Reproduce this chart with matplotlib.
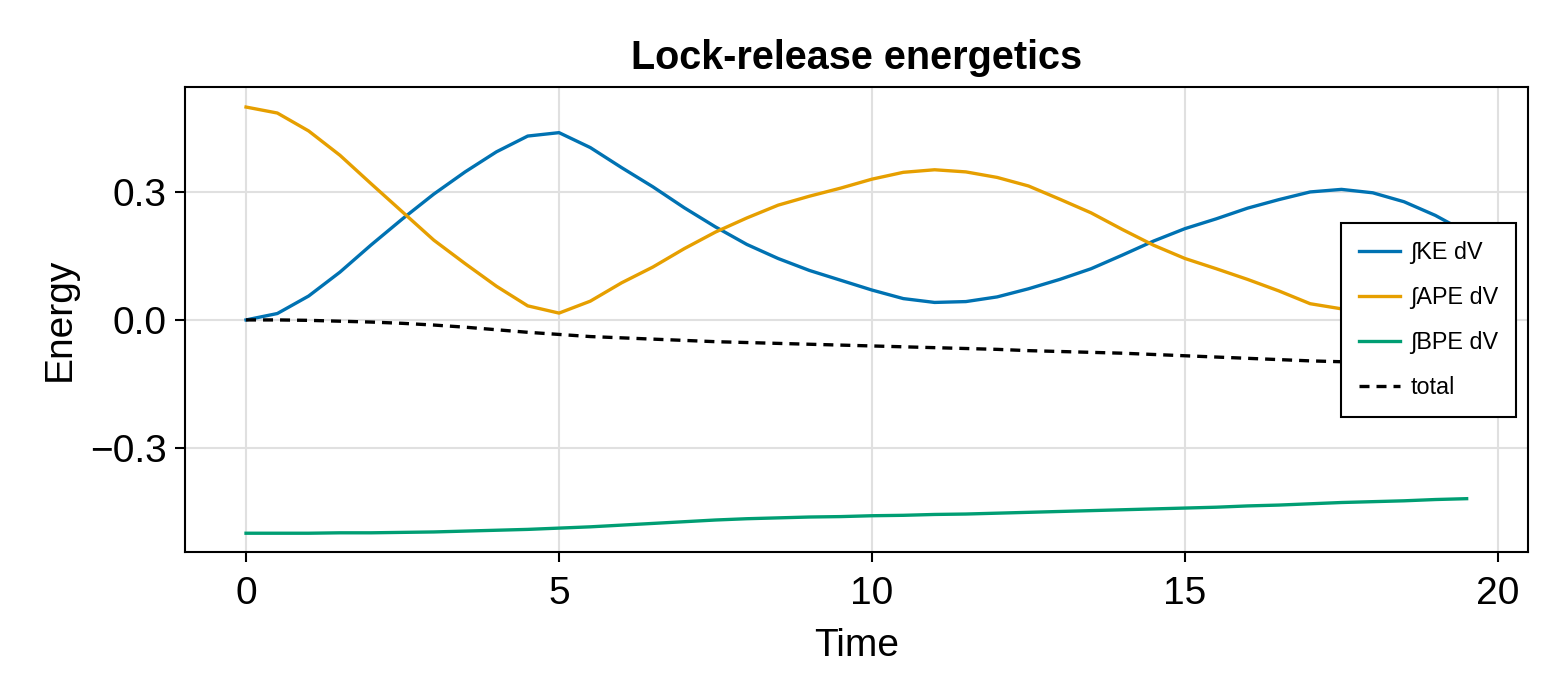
import numpy as np
import matplotlib
matplotlib.use("Agg")
import matplotlib.pyplot as plt
from matplotlib.ticker import FuncFormatter

time = [0.0, 0.5, 1.0, 1.5, 2.0, 2.5, 3.0, 3.5, 4.0, 4.5,
        5.0, 5.5, 6.0, 6.5, 7.0, 7.5, 8.0, 8.5, 9.0, 9.5,
        10.0, 10.5, 11.0, 11.5, 12.0, 12.5, 13.0, 13.5, 14.0, 14.5,
        15.0, 15.5, 16.0, 16.5, 17.0, 17.5, 18.0, 18.5, 19.0, 19.5]

ke = [0.000, 0.015, 0.056, 0.112, 0.176, 0.237, 0.295, 0.347, 0.394, 0.431,
      0.439, 0.404, 0.357, 0.312, 0.263, 0.218, 0.177, 0.144, 0.116, 0.093,
      0.070, 0.050, 0.041, 0.043, 0.054, 0.073, 0.095, 0.120, 0.152, 0.185,
      0.214, 0.237, 0.262, 0.282, 0.300, 0.306, 0.298, 0.277, 0.245, 0.205]

ape = [0.499, 0.485, 0.443, 0.386, 0.319, 0.253, 0.187, 0.132, 0.079, 0.033,
       0.016, 0.044, 0.087, 0.124, 0.167, 0.206, 0.239, 0.269, 0.290, 0.309,
       0.330, 0.346, 0.352, 0.347, 0.334, 0.314, 0.283, 0.251, 0.212, 0.175,
       0.144, 0.120, 0.095, 0.068, 0.038, 0.026, 0.022, 0.030, 0.050, 0.078]

bpe = [-0.500, -0.500, -0.500, -0.499, -0.499, -0.498, -0.497, -0.495, -0.493, -0.491,
       -0.488, -0.485, -0.481, -0.477, -0.473, -0.469, -0.466, -0.464, -0.462, -0.461,
       -0.459, -0.458, -0.456, -0.455, -0.453, -0.451, -0.449, -0.447, -0.445, -0.443,
       -0.441, -0.439, -0.436, -0.434, -0.431, -0.428, -0.426, -0.424, -0.421, -0.419]

total = [0.000, -0.000, -0.001, -0.003, -0.005, -0.008, -0.012, -0.017, -0.023, -0.029,
         -0.034, -0.039, -0.042, -0.045, -0.048, -0.051, -0.053, -0.055, -0.057, -0.059,
         -0.061, -0.063, -0.065, -0.067, -0.069, -0.072, -0.074, -0.076, -0.078, -0.081,
         -0.084, -0.087, -0.090, -0.093, -0.096, -0.098, -0.100, -0.102, -0.104, -0.106]

labels = ["\u222bKE dV", "\u222bAPE dV", "\u222bBPE dV", "total"]
colors = ["#0072B2", "#E69F00", "#009E73", "black"]
xticks = [0, 5, 10, 15, 20]
yticks = [-0.3, 0.0, 0.3]

plt.rcParams['font.family'] = ['Liberation Sans', 'DejaVu Sans']

fig = plt.figure(figsize=(15.6, 7.0), dpi=100)
ax = fig.add_axes([185/1560, 1-552/700, (1528-185)/1560, (552-87)/700])

lw = 2.4
ax.plot(time, ke, color=colors[0], lw=lw, label=labels[0])
ax.plot(time, ape, color=colors[1], lw=lw, label=labels[1])
ax.plot(time, bpe, color=colors[2], lw=lw, label=labels[2])
ax.plot(time, total, color=colors[3], lw=lw, ls=(0, (3.0, 2.1)), label=labels[3])

ax.set_xlim(-0.975, 20.48)
ax.set_ylim(-0.544, 0.546)
ax.set_xticks(xticks)
ax.set_yticks(yticks)
ax.yaxis.set_major_formatter(FuncFormatter(lambda v, p: f"{v:.1f}".replace("-", "\u2212")))

ax.grid(True, color='#e0e0e0', lw=1.5)
ax.set_axisbelow(True)
for s in ax.spines.values():
    s.set_linewidth(1.5)
    s.set_color('black')
ax.tick_params(axis='both', direction='out', length=7, width=1.5,
               labelsize=28, colors='black')
ax.tick_params(axis='x', pad=10)
ax.tick_params(axis='y', pad=6)

ax.set_title("Lock-release energetics", fontsize=28.5, fontweight='bold', pad=13)
ax.set_xlabel("Time", fontsize=28, labelpad=12)
ax.set_ylabel("Energy", fontsize=28, labelpad=9)

leg = ax.legend(loc='center right', bbox_to_anchor=(0.991, 0.499),
                fontsize=16.8, frameon=True, fancybox=False, framealpha=1,
                edgecolor='black', handlelength=1.75, handletextpad=0.45,
                labelspacing=0.95, borderpad=0.75, borderaxespad=0)
leg.get_frame().set_linewidth(1.5)

fig.savefig("out.png", dpi=100)
